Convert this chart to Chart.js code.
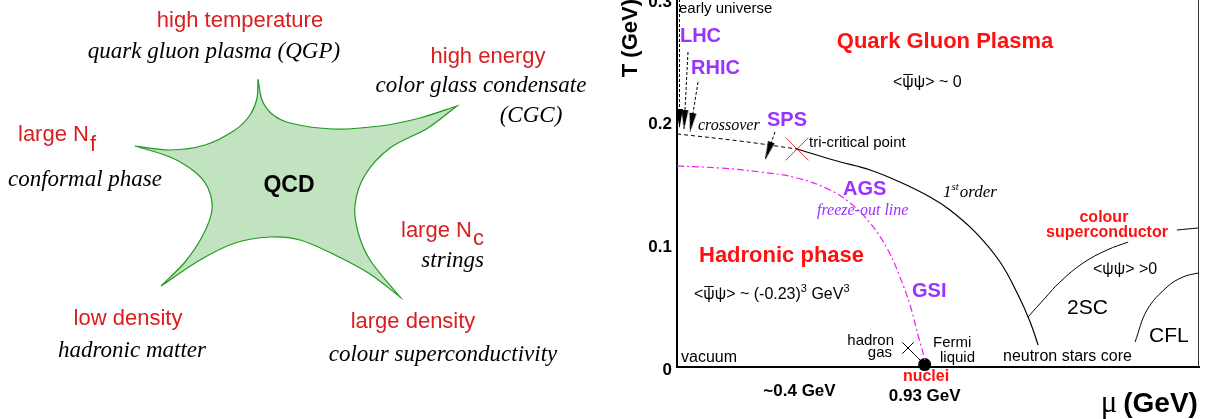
<!DOCTYPE html>
<html><head><meta charset="utf-8">
<script src="https://cdn.jsdelivr.net/npm/chart.js@4.4.1/dist/chart.umd.min.js"></script>
<style>
html,body{margin:0;padding:0;background:#fff;overflow:hidden;width:1207px;height:419px;}
#c1{position:absolute;left:0;top:0;}
#c2{position:absolute;left:590px;top:-8px;}
</style></head><body>
<canvas id="c1" width="600" height="419"></canvas>
<canvas id="c2" width="617" height="427"></canvas>
<script>
// ---------- Left panel: QCD "star" outline (diagram units) ----------
const starX = [258,262,272,290,333,380,420,457,457,428,390,365,355,358,370,400,400,370,335,300,270,235,200,161,161,185,203,212,208,195,170,135,135,170,205,235,250,257,258];
const starY = [79,100,114,123,129,126,118,106,106,128,148,175,205,232,260,297,297,274,255,240,237,243,260,286,286,262,235,210,188,172,157,146,146,150,145,130,115,98,79];

// ---------- Right panel: phase diagram (mu in GeV, T in GeV) ----------
const crossoverMu = [0, 0.237, 0.451];
const crossoverT  = [0.190, 0.1842, 0.1777];
const firstOrderMu = [0.451,0.601,0.725,0.837,0.950,1.025,1.119,1.213,1.281,1.326,1.356];
const firstOrderT  = [0.1777,0.1679,0.1606,0.1508,0.1386,0.1280,0.1101,0.0856,0.0587,0.0367,0.0179];
const freezeMu = [0,0.161,0.312,0.451,0.575,0.650,0.725,0.792,0.837,0.875,0.905,0.931];
const freezeT  = [0.1639,0.1622,0.1590,0.1541,0.1443,0.1337,0.1174,0.0954,0.0734,0.0505,0.0261,0.0057];
const twoSCMu = [1.318,1.382,1.438,1.525,1.615,1.694];
const twoSCT  = [0.0408,0.0562,0.0693,0.0848,0.0954,0.1019];
const cflMu = [1.720,1.765,1.840,1.900,1.956];
const cflT  = [0.0204,0.0465,0.0652,0.0734,0.0766];
const csUpperMu = [1.877,1.956];
const csUpperT  = [0.1117,0.1133];

const arrowFromMu = [0.0094,0.0413,0.0789,0.368];
const arrowFromT  = [0.300,0.2568,0.2323,0.1916];
const arrowToMu   = [0.0094,0.0263,0.0488,0.3304];
const arrowToT    = [0.1948,0.1940,0.1916,0.1687];

const triCriticalMu = 0.451, triCriticalT = 0.1777;
const hadronGasMu = 0.8674, hadronGasT = 0.0155;
const hadronLinkMu = [0.8674, 0.9162], hadronLinkT = [0.0155, 0.0049];
const nucleiMu = 0.93, nucleiT = 0.002;

const yTickValues = [0, 0.1, 0.2, 0.3];
const yTickLabels = ['0', '0.1', '0.2', '0.3'];
const xTickValues = [0.46, 0.93];
const xTickLabels = ['~0.4 GeV', '0.93 GeV'];

// ---------- styles ----------
const SANS = '"Liberation Sans", Arial, Helvetica, sans-serif';
const SERIF = '"Liberation Serif", "Times New Roman", serif';
const DARKRED = '#d81e1e', RED = '#ff1111', PURPLE = '#9933ff';

function pts(xs, ys) { return xs.map((x, i) => ({x: x, y: ys[i]})); }

function notesPlugin(items) {
  return {
    id: 'notes',
    afterDatasetsDraw(chart) {
      const ctx = chart.ctx, sx = chart.scales.x, sy = chart.scales.y;
      ctx.save();
      ctx.textBaseline = 'alphabetic';
      ctx.textAlign = 'left';
      items.forEach(n => {
        const px = sx.getPixelForValue(n.x), py = sy.getPixelForValue(n.y);
        let total = 0;
        n.parts.forEach(p => { ctx.font = p.f; p._w = ctx.measureText(p.t).width; total += p._w + (p.gap || 0); });
        let x = n.a === 'center' ? px - total / 2 : (n.a === 'right' ? px - total : px);
        n.parts.forEach(p => {
          ctx.font = p.f;
          ctx.fillStyle = p.c || n.c || '#000';
          ctx.fillText(p.t, x, py + (p.dy || 0));
          if (p.over) {
            ctx.strokeStyle = p.c || n.c || '#000';
            ctx.lineWidth = 1;
            ctx.beginPath();
            ctx.moveTo(x + 1, py - p.over + 0.5);
            ctx.lineTo(x + p._w - 1, py - p.over + 0.5);
            ctx.stroke();
          }
          x += p._w + (p.gap || 0);
        });
      });
      ctx.restore();
    }
  };
}

// ---------- Left chart ----------
const f22 = `22px ${SANS}`, i23 = `italic 23px ${SERIF}`;
const leftNotes = [
  {x:240, y:27,  a:'center', c:DARKRED, parts:[{t:'high temperature', f:f22}]},
  {x:214, y:58,  a:'center', parts:[{t:'quark gluon plasma (QGP)', f:i23}]},
  {x:488, y:63,  a:'center', c:DARKRED, parts:[{t:'high energy', f:f22}]},
  {x:481, y:92,  a:'center', parts:[{t:'color glass condensate', f:i23}]},
  {x:531, y:122, a:'center', parts:[{t:'(CGC)', f:i23}]},
  {x:18,  y:141, a:'left', c:DARKRED, parts:[{t:'large N', f:f22, gap:1}, {t:'f', f:`22px ${SANS}`, dy:10}]},
  {x:8,   y:186, a:'left', parts:[{t:'conformal phase', f:i23}]},
  {x:289, y:192, a:'center', parts:[{t:'QCD', f:`bold 23px ${SANS}`}]},
  {x:401, y:237, a:'left', c:DARKRED, parts:[{t:'large N', f:f22, gap:1}, {t:'c', f:`22px ${SANS}`, dy:8}]},
  {x:484, y:267, a:'right', parts:[{t:'strings', f:i23}]},
  {x:128, y:325, a:'center', c:DARKRED, parts:[{t:'low density', f:f22}]},
  {x:132, y:357, a:'center', parts:[{t:'hadronic matter', f:i23}]},
  {x:413, y:328, a:'center', c:DARKRED, parts:[{t:'large density', f:f22}]},
  {x:443, y:361, a:'center', parts:[{t:'colour superconductivity', f:i23}]}
];

new Chart(document.getElementById('c1'), {
  type: 'scatter',
  data: {datasets: [{
    data: pts(starX, starY), showLine: true, fill: 'shape',
    backgroundColor: '#c2e3c0', borderColor: '#1f9a1f', borderWidth: 1.2,
    tension: 0.3, pointRadius: 0
  }]},
  options: {
    responsive: false, animation: false, devicePixelRatio: 1,
    layout: {padding: 0, autoPadding: false},
    scales: {
      x: {type: 'linear', min: 0, max: 600, display: false},
      y: {type: 'linear', min: 0, max: 419, reverse: true, display: false}
    },
    plugins: {legend: {display: false}, tooltip: {enabled: false}}
  },
  plugins: [notesPlugin(leftNotes)]
});

// ---------- Right chart ----------
function makeArrowHead() {
  const c = document.createElement('canvas');
  c.width = 9; c.height = 40;
  const g = c.getContext('2d');
  g.fillStyle = '#000';
  g.beginPath(); g.moveTo(4.5, 20); g.lineTo(8, 39); g.lineTo(1, 39); g.closePath(); g.fill();
  return c;
}
const arrowHead = makeArrowHead();

const s16 = `16px ${SANS}`, s15 = `15px ${SANS}`, s14 = `15px ${SANS}`;
const pb20 = `bold 20px ${SANS}`;
const rightNotes = [
  {x:0.0075, y:0.2886, a:'left', parts:[{t:'early universe', f:s15}]},
  {x:0.011, y:0.2649, a:'left', c:PURPLE, parts:[{t:'LHC', f:pb20}]},
  {x:0.0526, y:0.2389, a:'left', c:PURPLE, parts:[{t:'RHIC', f:pb20}]},
  {x:0.338, y:0.1965, a:'left', c:PURPLE, parts:[{t:'SPS', f:pb20}]},
  {x:0.0789, y:0.1932, a:'left', parts:[{t:'crossover', f:`italic 16px ${SERIF}`}]},
  {x:0.4956, y:0.1793, a:'left', parts:[{t:'tri-critical point', f:s14}]},
  {x:1.0063, y:0.2600, a:'center', c:RED, parts:[{t:'Quark Gluon Plasma', f:`bold 22px ${SANS}`}]},
  {x:0.811, y:0.2283, a:'left', parts:[{t:'<', f:s16}, {t:'\u03C8', f:s16, over:13}, {t:'\u03C8> ~ 0', f:s16}]},
  {x:0.9988, y:0.1386, a:'left', parts:[{t:'1', f:`italic 17px ${SERIF}`}, {t:'st', f:`italic 11px ${SERIF}`, dy:-7, gap:1}, {t:'order', f:`italic 17px ${SERIF}`}]},
  {x:0.6233, y:0.1402, a:'left', c:PURPLE, parts:[{t:'AGS', f:pb20}]},
  {x:0.5257, y:0.1239, a:'left', c:PURPLE, parts:[{t:'freeze-out line', f:`italic 16px ${SERIF}`}]},
  {x:0.0826, y:0.0856, a:'left', c:RED, parts:[{t:'Hadronic phase', f:`bold 22px ${SANS}`}]},
  {x:0.0638, y:0.0554, a:'left', parts:[{t:'<', f:s16}, {t:'\u03C8', f:s16, over:13}, {t:'\u03C8> ~ (-0.23)', f:s16}, {t:'3', f:`11px ${SANS}`, dy:-7}, {t:' GeV', f:s16}, {t:'3', f:`11px ${SANS}`, dy:-7}]},
  {x:0.015, y:0.0041, a:'left', parts:[{t:'vacuum', f:s16}]},
  {x:0.8148, y:0.0179, a:'right', parts:[{t:'hadron', f:s14}]},
  {x:0.8073, y:0.0082, a:'right', parts:[{t:'gas', f:s14}]},
  {x:0.9612, y:0.0163, a:'left', parts:[{t:'Fermi', f:s14}]},
  {x:0.9875, y:0.0041, a:'left', parts:[{t:'liquid', f:s14}]},
  {x:0.935, y:-0.0114, a:'center', c:RED, parts:[{t:'nuclei', f:`bold 16px ${SANS}`}]},
  {x:0.8824, y:0.0571, a:'left', c:PURPLE, parts:[{t:'GSI', f:pb20}]},
  {x:1.603, y:0.1182, a:'center', c:RED, parts:[{t:'colour', f:`bold 16px ${SANS}`}]},
  {x:1.6146, y:0.1060, a:'center', c:RED, parts:[{t:'superconductor', f:`bold 16px ${SANS}`}]},
  {x:1.562, y:0.0758, a:'left', parts:[{t:'<\u03C8\u03C8> >0', f:s16}]},
  {x:1.4644, y:0.0432, a:'left', parts:[{t:'2SC', f:`21px ${SANS}`}]},
  {x:1.7722, y:0.0204, a:'left', parts:[{t:'CFL', f:`21px ${SANS}`}]},
  {x:1.224, y:0.0049, a:'left', parts:[{t:'neutron stars core', f:s16}]},
  {x:1.956, y:-0.0367, a:'right', parts:[{t:'\u03BC', f:`31px ${SERIF}`, gap:6}, {t:'(GeV)', f:`bold 28px ${SANS}`}]}
];

const framePlugin = {
  id: 'frame',
  beforeDatasetsDraw(chart) {
    const {ctx, chartArea: a} = chart;
    ctx.save();
    ctx.strokeStyle = '#333'; ctx.lineWidth = 1;
    ctx.beginPath();
    ctx.moveTo(a.left, a.top + 0.5); ctx.lineTo(a.right - 0.5, a.top + 0.5);
    ctx.lineTo(a.right - 0.5, a.bottom);
    ctx.stroke();
    ctx.restore();
  }
};

function lineDs(xs, ys, color, dash, width) {
  return {data: pts(xs, ys), showLine: true, borderColor: color, borderWidth: width || 1,
          borderDash: dash || [], tension: 0.4, pointRadius: 0, fill: false};
}

function arrowRotation(c) {
  const d = c.dataset.data, sx = c.chart.scales.x, sy = c.chart.scales.y;
  const dx = sx.getPixelForValue(d[1].x) - sx.getPixelForValue(d[0].x);
  const dy = sy.getPixelForValue(d[1].y) - sy.getPixelForValue(d[0].y);
  return Math.atan2(dx, -dy) * 180 / Math.PI;
}

const rightDatasets = [
  lineDs(crossoverMu, crossoverT, '#000', [4, 3], 1),
  lineDs(firstOrderMu, firstOrderT, '#000', [], 1.2),
  lineDs(freezeMu, freezeT, '#ee22ee', [7, 3, 2, 3], 1.2),
  lineDs(twoSCMu, twoSCT, '#000', [], 1),
  lineDs(cflMu, cflT, '#000', [], 1),
  lineDs(csUpperMu, csUpperT, '#000', [], 1),
  lineDs(hadronLinkMu, hadronLinkT, '#000', [], 1)
];
arrowFromMu.forEach((m, i) => {
  rightDatasets.push({
    data: [{x: m, y: arrowFromT[i]}, {x: arrowToMu[i], y: arrowToT[i]}],
    showLine: true, borderColor: '#000', borderWidth: 1, borderDash: [3, 2], tension: 0,
    pointStyle: c => c.dataIndex === 1 ? arrowHead : 'circle',
    pointRadius: c => c.dataIndex === 1 ? 3 : 0,
    pointRotation: arrowRotation,
    clip: false
  });
});
rightDatasets.push({data: [{x: triCriticalMu, y: triCriticalT}], pointStyle: 'crossRot', pointRadius: 16,
  borderColor: '#ff2a2a', borderWidth: 1, backgroundColor: 'transparent'});
rightDatasets.push({data: [{x: hadronGasMu, y: hadronGasT}], pointStyle: 'crossRot', pointRadius: 8,
  borderColor: '#000', borderWidth: 1});
rightDatasets.push({data: [{x: nucleiMu, y: nucleiT}], pointStyle: 'circle', pointRadius: 6.5,
  backgroundColor: '#000', borderColor: '#000', borderWidth: 0, clip: false});

function zeroPad(s) { s.paddingTop = 0; s.paddingBottom = 0; s.paddingLeft = 0; s.paddingRight = 0; }

new Chart(document.getElementById('c2'), {
  type: 'scatter',
  data: {datasets: rightDatasets},
  options: {
    responsive: false, animation: false, devicePixelRatio: 1,
    layout: {padding: {left: 0, right: 8, top: 7, bottom: 0}, autoPadding: false},
    scales: {
      x: {
        type: 'linear', min: 0, max: 1.96,
        grid: {display: false, drawTicks: false},
        border: {display: true, color: '#000', width: 2},
        afterBuildTicks: s => { s.ticks = xTickValues.map(v => ({value: v})); },
        afterFit: s => { s.height = 52; zeroPad(s); },
        ticks: {
          autoSkip: false, maxRotation: 0, padding: 14, color: '#000',
          font: c => ({family: 'Liberation Sans', size: 17, weight: 'bold', lineHeight: c.index === 1 ? 1.8 : 1.2}),
          callback: (v, i) => xTickLabels[i]
        }
      },
      y: {
        type: 'linear', min: 0, max: 0.3,
        grid: {display: false, drawTicks: false},
        border: {display: true, color: '#000', width: 2},
        afterBuildTicks: s => { s.ticks = yTickValues.map(v => ({value: v})); },
        afterFit: s => { s.width = 87; zeroPad(s); },
        ticks: {
          padding: 5, color: '#000', labelOffset: 3,
          font: {family: 'Liberation Sans', size: 17, weight: 'bold'},
          callback: (v, i) => yTickLabels[i]
        },
        title: {
          display: true, text: 'T (GeV)', align: 'end', color: '#000',
          font: {family: 'Liberation Sans', size: 22, weight: 'bold'},
          padding: {top: 28, bottom: 0}
        }
      }
    },
    plugins: {legend: {display: false}, tooltip: {enabled: false}}
  },
  plugins: [framePlugin, notesPlugin(rightNotes)]
});
</script>
</body></html>
